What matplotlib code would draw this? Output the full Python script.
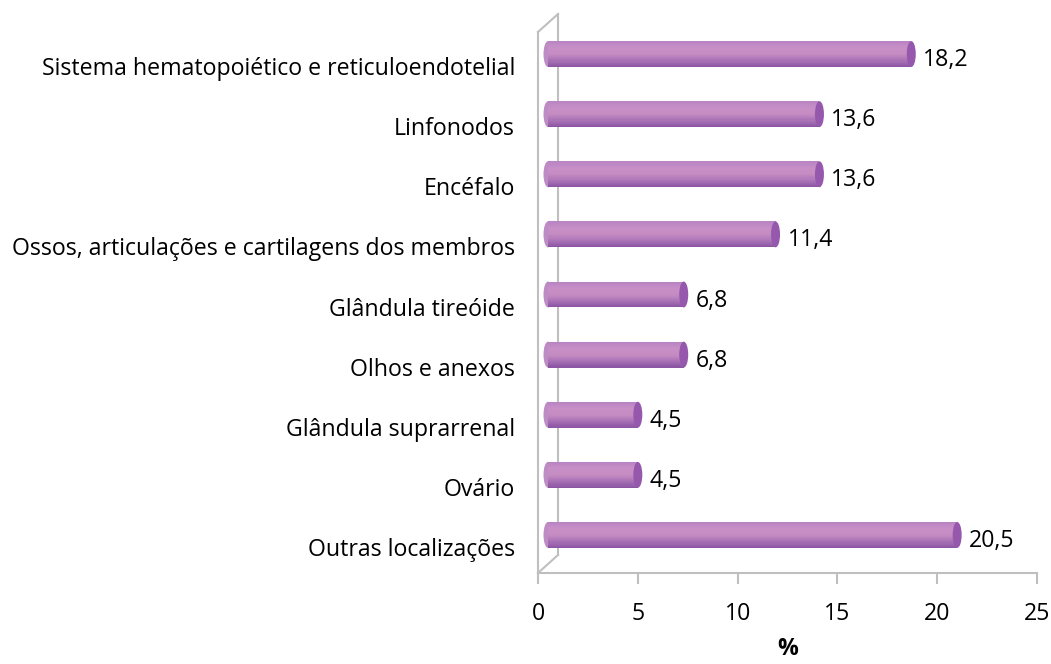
import matplotlib
matplotlib.use('Agg')
import matplotlib.pyplot as plt
import matplotlib.transforms as mtransforms
from matplotlib.patches import Ellipse
from matplotlib.colors import LinearSegmentedColormap
import numpy as np

# Data
categories = ['Sistema hematopoiético e reticuloendotelial', 'Linfonodos', 'Encéfalo',
              'Ossos, articulações e cartilagens dos membros', 'Glândula tireóide',
              'Olhos e anexos', 'Glândula suprarrenal', 'Ovário', 'Outras localizações']
values = [18.2, 13.6, 13.6, 11.4, 6.8, 6.8, 4.5, 4.5, 20.5]
value_labels = ['18,2', '13,6', '13,6', '11,4', '6,8', '6,8', '4,5', '4,5', '20,5']
xticks = [0, 5, 10, 15, 20, 25]

FONT = 'Open Sans'
FS = 16.7
GRAY = '#BFBFBF'

fig = plt.figure(figsize=(10.51, 6.64), dpi=100)
ax = fig.add_axes([538 / 1051, 1 - 573 / 664, (1037 - 538) / 1051, (573 - 32) / 664])

ypos = np.arange(len(categories))
ax.set_ylim(len(categories) - 0.5, -0.5)
ax.set_xlim(0, 25)

# 3D depth offsets (pixels): wall depth and bar at mid-depth
depth = mtransforms.ScaledTranslation(20 / 100, 18 / 100, fig.dpi_scale_trans)
half = mtransforms.ScaledTranslation(10 / 100, 8 / 100, fig.dpi_scale_trans)

# cylinder shading, top -> bottom
cmap = LinearSegmentedColormap.from_list('cyl', ['#B883C4', '#C68FC6', '#C58CC2', '#A972B6', '#8A54A3'])
bar_h = 0.43
n_strips = 24
for k in range(n_strips):
    frac = (k + 0.5) / n_strips
    yy = ypos - bar_h / 2 + frac * bar_h
    bars = ax.barh(yy, values, height=bar_h / n_strips + 0.002, left=0,
                   color=cmap(frac), linewidth=0, zorder=3)
    for p in bars:
        p.set_transform(ax.transData + half)

# end caps
for y, v in zip(ypos, values):
    cap = Ellipse((v, y), width=0.45, height=bar_h, facecolor='#9558AC', edgecolor='none', zorder=4)
    cap.set_transform(ax.transData + half)
    ax.add_patch(cap)
    start = Ellipse((0, y), width=0.45, height=bar_h, facecolor='#BE8CC4', edgecolor='none', zorder=2)
    start.set_transform(ax.transData + half)
    ax.add_patch(start)

# value labels
for y, v, lab in zip(ypos, values, value_labels):
    t = ax.text(v + 0.6, y, lab, va='center', ha='left', fontsize=FS, family=FONT, color='black')
    t.set_transform(ax.transData + mtransforms.ScaledTranslation(10 / 100, 2 / 100, fig.dpi_scale_trans))

# side wall
for s in ax.spines.values():
    s.set_visible(False)
x0, x1 = 0, 25
y_top, y_bot = -0.5, len(categories) - 0.5
ax.plot([0, 0], [y_top, y_bot], color=GRAY, lw=1.5, zorder=1, clip_on=False)
back = ax.plot([0, 0], [y_top, y_bot], color=GRAY, lw=1.5, zorder=1, clip_on=False)[0]
back.set_transform(ax.transData + depth)
# diagonal connectors in pixel space
for yy in (y_top, y_bot):
    p0 = ax.transData.transform((0, yy))
    pts = np.array([p0, p0 + np.array([20, 18]) * fig.dpi / 100])
    inv = ax.transData.inverted().transform(pts)
    ax.plot(inv[:, 0], inv[:, 1], color=GRAY, lw=1.5, clip_on=False, zorder=1)
# floor axis line
ax.plot([x0, x1], [y_bot, y_bot], color=GRAY, lw=1.5, clip_on=False, zorder=1)

ax.set_xticks(xticks)
ax.set_xticklabels([str(t) for t in xticks], fontsize=FS, family=FONT)
ax.tick_params(axis='x', length=8, width=1.5, color=GRAY, pad=13)
ax.set_yticks(ypos)
ax.set_yticklabels(categories, fontsize=FS, family=FONT)
ax.tick_params(axis='y', length=0, pad=16.5)
for lab in ax.get_yticklabels():
    lab.set_transform(lab.get_transform() + mtransforms.ScaledTranslation(0, -4 / 100, fig.dpi_scale_trans))

ax.set_xlabel('%', fontsize=FS, family=FONT, fontweight='bold', labelpad=8)

fig.savefig('out.png', dpi=100)
